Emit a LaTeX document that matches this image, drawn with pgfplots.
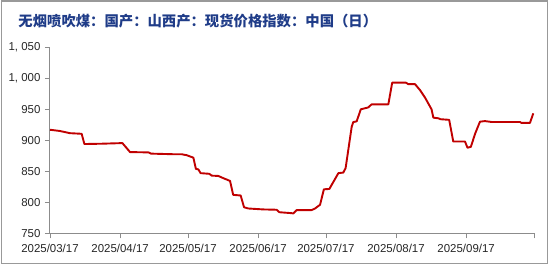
\documentclass[border=0pt]{standalone}
\usepackage{fontspec}
\setmainfont{Liberation Sans}
\newfontfamily\cjk{Noto Sans CJK SC}
\usepackage{pgfplots}
\pgfplotsset{compat=1.18}
\definecolor{linered}{HTML}{C00000}
\definecolor{titleblue}{HTML}{1F3C88}
\definecolor{axisgray}{HTML}{8C8C8C}
\begin{document}
\begin{tikzpicture}
\path[use as bounding box] (-50bp,-33.7bp) rectangle (500bp,233.3bp);
\begin{axis}[at={(0,0)}, anchor=south west, scale only axis,
  width=484bp, height=186bp,
  xmin=0, xmax=214, ymin=750, ymax=1050,
  axis x line*=bottom, axis y line*=left,
  xtick={0,31,61,92,122,153,184,214},
  xticklabels={2025/03/17,2025/04/17,2025/05/17,2025/06/17,2025/07/17,2025/08/17,2025/09/17,{}},
  ytick={750,800,850,900,950,1000,1050},
  yticklabels={750,800,850,900,950,{1, 000},{1, 050}},
  tick align=outside, major tick length=5bp,
  axis line style={axisgray, line width=1bp},
  tick style={axisgray, line width=0.8bp},
  tick label style={font=\fontsize{11.5}{12}\selectfont, text=black!85},
  xticklabel style={yshift=-2bp},
  yticklabel style={xshift=-1bp},
]
\addplot[linered, line width=1.9bp, line join=round] coordinates {
(0,917) (4.4,915) (8.8,911.5) (14.0,910.5) (15.2,894) (22.9,894.5) (32.0,895.5)
(35.4,881) (43.5,880.5) (44.7,878.5) (55.0,877.5) (58.2,877.5) (60.4,876)
(63.4,872) (64.5,854) (65.6,853) (66.6,847) (70.4,846) (71.5,843) (74.4,842.5)
(76.6,839) (79.6,834.5) (81.0,812) (84.3,811) (85.8,792) (87.7,790) (94.3,788.5)
(100.2,788) (101.4,784) (106.8,782.5) (107.6,782) (109.1,787.5) (115.7,787.5)
(117.2,790) (119.4,796) (121.1,821) (123.5,821.5) (127.5,847) (129.7,848)
(130.7,855) (133.4,922) (134.1,929.5) (135.6,930.5) (137.4,950) (140.7,953)
(142.2,958) (149.6,958) (151.3,993) (157.4,993) (158.4,990.5) (161.4,990.5)
(163.6,981) (165.8,969) (168.7,950) (169.5,936.5) (171.7,935.5) (172.7,934)
(176.5,933) (178.3,898) (183.5,898) (184.6,888) (186.1,889.5) (187.9,910)
(190.1,930) (192.3,931) (195.3,929.5) (207.8,929.5) (208.5,928) (212.2,928)
(213.7,943.5)
};
\end{axis}
\draw[gray!80, line width=1.2bp] (-48.5bp,-30.2bp) rectangle (497.5bp,232.3bp);
\node[anchor=west, inner sep=0pt, text=titleblue, font=\cjk\bfseries\fontsize{14.4}{15}\selectfont] at (-31.7bp,212bp) {无烟喷吹煤：国产：山西产：现货价格指数：中国（日）};
\end{tikzpicture}
\end{document}
